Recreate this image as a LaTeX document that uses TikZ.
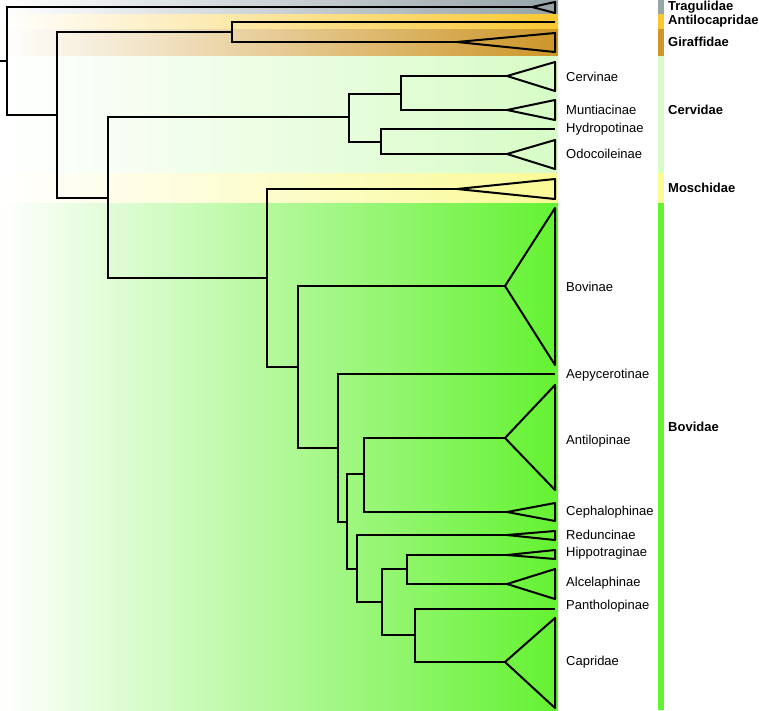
\documentclass[tikz,border=0pt]{standalone}
\usepackage{fontspec}
\setmainfont{Liberation Sans}
\definecolor{trag}{RGB}{150,163,168}
\definecolor{antil}{RGB}{248,200,50}
\definecolor{giraf}{RGB}{205,150,40}
\definecolor{cerv}{RGB}{215,252,198}
\definecolor{mosch}{RGB}{250,250,150}
\definecolor{bov}{RGB}{100,242,50}
\begin{document}
\begin{tikzpicture}[x=1pt,y=-1pt,
  branch/.style={line width=2pt,draw=black,line join=miter},
  clade/.style={line width=2pt,draw=black,line join=round},
  sublabel/.style={anchor=west,inner sep=0pt,font=\fontsize{13}{15}\selectfont},
  famlabel/.style={anchor=west,inner sep=0pt,font=\fontsize{13}{15}\selectfont\bfseries},
  bar/.style={draw=none}]
\useasboundingbox (0,0) rectangle (759,710);
% background bands
\shade[left color=white,right color=trag] (0,0) rectangle (558,14);
\shade[left color=white,right color=antil] (0,14) rectangle (558,29);
\shade[left color=white,right color=giraf] (0,29) rectangle (558,56);
\shade[left color=white,right color=cerv] (0,56) rectangle (558,173);
\shade[left color=white,right color=mosch] (0,173) rectangle (558,203);
\shade[left color=white,right color=bov] (0,203) rectangle (558,710);
% right colour bar
\fill[trag] (658,0) rectangle (664,14);
\fill[antil] (658,14) rectangle (664,29);
\fill[giraf] (658,29) rectangle (664,56);
\fill[cerv] (658,56) rectangle (664,173);
\fill[mosch] (658,173) rectangle (664,203);
\fill[bov] (658,203) rectangle (664,710);
% family labels
\node[famlabel] (fTrag) at (668,7) {Tragulidae};
\node[famlabel] (fAnti) at (668,21.5) {Antilocapridae};
\node[famlabel] (fGira) at (668,42) {Giraffidae};
\node[famlabel] (fCerv) at (668,110) {Cervidae};
\node[famlabel] (fMosc) at (668,187.5) {Moschidae};
\node[famlabel] (fBovi) at (668,427) {Bovidae};
% subfamily labels
\node[sublabel] (lCervinae) at (566,76.5) {Cervinae};
\node[sublabel] (lMunt) at (566,110) {Muntiacinae};
\node[sublabel] (lHydro) at (566,129) {Hydropotinae};
\node[sublabel] (lOdoc) at (566,154) {Odocoileinae};
\node[sublabel] (lBovinae) at (566,287) {Bovinae};
\node[sublabel] (lAepy) at (566,375) {Aepycerotinae};
\node[sublabel] (lAntil) at (566,441) {Antilopinae};
\node[sublabel] (lCeph) at (566,512) {Cephalophinae};
\node[sublabel] (lRedu) at (566,535) {Reduncinae};
\node[sublabel] (lHipp) at (566,553) {Hippotraginae};
\node[sublabel] (lAlce) at (566,583) {Alcelaphinae};
\node[sublabel] (lPant) at (566,606) {Pantholopinae};
\node[sublabel] (lCapr) at (566,662) {Capridae};
% tips (apex of collapsed clades, or leaf ends)
\coordinate (tTrag) at (532,7);
\coordinate (tAnti) at (555,22);
\coordinate (tGira) at (457,42);
\coordinate (tCervinae) at (507,76);
\coordinate (tMunt) at (507,110);
\coordinate (tHydro) at (555,129);
\coordinate (tOdoc) at (507,154);
\coordinate (tMosc) at (457,189);
\coordinate (tBovinae) at (505,286);
\coordinate (tAepy) at (555,374);
\coordinate (tAntil) at (505,438);
\coordinate (tCeph) at (507,512);
\coordinate (tRedu) at (507,535);
\coordinate (tHipp) at (507,555);
\coordinate (tAlce) at (507,584);
\coordinate (tPant) at (555,609);
\coordinate (tCapr) at (505,662);
% internal nodes
\coordinate (stub) at (0,61);
\coordinate (n0) at (7,61);
\coordinate (n1) at (57,115);
\coordinate (n2) at (232,32);
\coordinate (n3) at (108,198);
\coordinate (n4) at (349,117);
\coordinate (n6) at (401,94);
\coordinate (n7) at (381,142);
\coordinate (n5) at (267,278);
\coordinate (n8) at (298,367);
\coordinate (n9) at (338,448);
\coordinate (n10) at (347,522);
\coordinate (n11) at (364,474);
\coordinate (n12) at (357,569);
\coordinate (n13) at (382,602);
\coordinate (n14) at (407,569);
\coordinate (n15) at (415,635);
% collapsed clades
\draw[clade] (tTrag) -- (555,2) -- (555,13) -- cycle;
\draw[clade] (tGira) -- (555,33) -- (555,52) -- cycle;
\draw[clade] (tCervinae) -- (555,62) -- (555,91) -- cycle;
\draw[clade] (tMunt) -- (555,100) -- (555,120) -- cycle;
\draw[clade] (tOdoc) -- (555,140) -- (555,169) -- cycle;
\draw[clade] (tMosc) -- (555,179) -- (555,199) -- cycle;
\draw[clade] (tBovinae) -- (555,208) -- (555,365) -- cycle;
\draw[clade] (tAntil) -- (555,385) -- (555,490) -- cycle;
\draw[clade] (tCeph) -- (555,503) -- (555,521) -- cycle;
\draw[clade] (tRedu) -- (555,531) -- (555,540) -- cycle;
\draw[clade] (tHipp) -- (555,550) -- (555,559) -- cycle;
\draw[clade] (tAlce) -- (555,569) -- (555,599) -- cycle;
\draw[clade] (tCapr) -- (555,618) -- (555,708) -- cycle;
% branches
\draw[branch] (stub) -- (n0);
\draw[branch] (tTrag) -| (n0) |- (n1);
\draw[branch] (n2) -| (n1) |- (n3);
\draw[branch] (tAnti) -| (n2) |- (tGira);
\draw[branch] (n4) -| (n3) |- (n5);
\draw[branch] (n6) -| (n4) |- (n7);
\draw[branch] (tCervinae) -| (n6) |- (tMunt);
\draw[branch] (tHydro) -| (n7) |- (tOdoc);
\draw[branch] (tMosc) -| (n5) |- (n8);
\draw[branch] (tBovinae) -| (n8) |- (n9);
\draw[branch] (tAepy) -| (n9) |- (n10);
\draw[branch] (n11) -| (n10) |- (n12);
\draw[branch] (tAntil) -| (n11) |- (tCeph);
\draw[branch] (tRedu) -| (n12) |- (n13);
\draw[branch] (n14) -| (n13) |- (n15);
\draw[branch] (tHipp) -| (n14) |- (tAlce);
\draw[branch] (tPant) -| (n15) |- (tCapr);
\end{tikzpicture}
\end{document}
